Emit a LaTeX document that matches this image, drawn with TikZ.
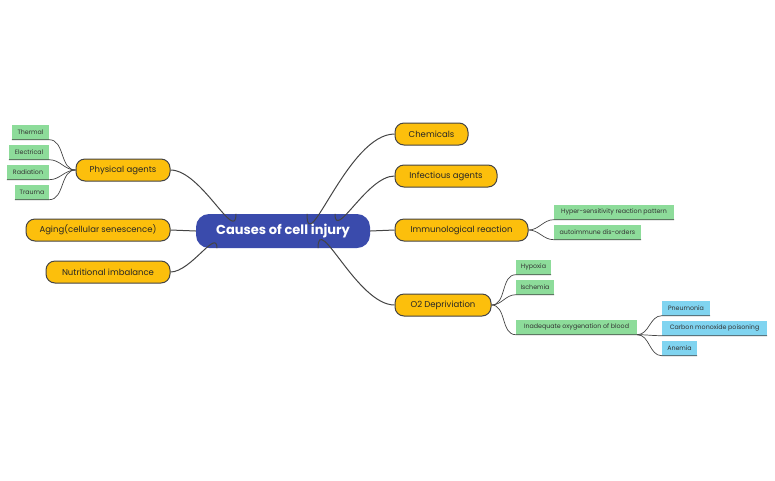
\documentclass[tikz,border=0pt]{standalone}
\usepackage{fontspec}
\setmainfont{Poppins}
\begin{document}
\definecolor{rootc}{HTML}{3A4BAC}
\definecolor{orc}{HTML}{FCBF0C}
\definecolor{grc}{HTML}{8DDC9A}
\definecolor{blc}{HTML}{80D4F0}
\definecolor{lnc}{HTML}{444444}
\begin{tikzpicture}[x=1pt,y=-1pt,
  root/.style={rounded corners=13pt,fill=rootc,text=white,font=\fontsize{13}{15}\selectfont\bfseries,minimum width=174pt,minimum height=34pt,inner sep=0pt},
  main/.style={rounded corners=9pt,fill=orc,draw=lnc,line width=1pt,font=\fontsize{8.5}{10}\selectfont,text=black!85,minimum height=22pt,inner sep=0pt},
  leaf/.style={fill=grc,font=\fontsize{6.3}{8}\selectfont,text=black!80,minimum height=15pt,inner sep=0pt},
  bleaf/.style={fill=blc,font=\fontsize{6.3}{8}\selectfont,text=black!80,minimum height=15pt,inner sep=0pt},
  con/.style={draw=lnc,line width=1pt},
  lcon/.style={draw=lnc,line width=0.7pt}]
\useasboundingbox (0,0) rectangle (775,480);
\node[root] (root) at (283,231) {Causes of cell injury};
\node[main,minimum width=94pt] (phys) at (123,170) {Physical agents};
\node[main,minimum width=144pt] (aging) at (98,230) {Aging(cellular senescence)};
\node[main,minimum width=124pt] (nutr) at (108,272) {Nutritional imbalance};
\node[main,minimum width=73pt] (chem) at (431.5,134) {Chemicals};
\node[main,minimum width=102pt] (inf) at (446,176) {Infectious agents};
\node[main,minimum width=133pt] (imm) at (461.5,230) {Immunological reaction};
\node[main,minimum width=96pt] (o2) at (443,305) {O2 Depriviation};
\node[leaf,minimum width=37pt] (th) at (30.5,132) {Thermal};
\node[leaf,minimum width=40pt] (el) at (29,152) {Electrical};
\node[leaf,minimum width=42pt] (ra) at (28,172) {Radiation};
\node[leaf,minimum width=34pt] (tr) at (32,192) {Trauma};
\node[leaf,minimum width=120pt] (hy) at (614,212) {Hyper-sensitivity reaction pattern};
\node[leaf,minimum width=87pt] (au) at (597.5,232) {autoimmune dis-orders};
\node[leaf,minimum width=35pt] (hp) at (533.5,267) {Hypoxia};
\node[leaf,minimum width=38pt] (is) at (535,287) {Ischemia};
\node[leaf,minimum width=121pt] (ina) at (576.5,327) {Inadequate oxygenation of blood};
\node[bleaf,minimum width=48pt] (pn) at (686,308) {Pneumonia};
\node[bleaf,minimum width=105pt] (co) at (714.5,328) {Carbon monoxide poisoning};
\node[bleaf,minimum width=35pt] (an) at (679.5,348) {Anemia};
% main connectors
\draw[con] ([xshift=24pt]root.north) to[out=-90,in=180] (chem.west);
\draw[con] ([xshift=52pt]root.north) to[out=-90,in=180] (inf.west);
\draw[con] (root.east) -- (imm.west);
\draw[con] ([xshift=35pt]root.south) to[out=90,in=180] (o2.west);
\draw[con] ([xshift=-47pt]root.north) to[out=-90,in=0] (phys.east);
\draw[con] (root.west) -- (aging.east);
\draw[con] ([xshift=-66pt]root.south) to[out=90,in=0] (nutr.east);
% leaf connectors
\foreach \l in {th,el,ra,tr}
  \draw[lcon] (phys.west) to[out=180,in=0] (\l.south east) -- (\l.south west);
\foreach \l in {hy,au}
  \draw[lcon] (imm.east) to[out=0,in=180] (\l.south west) -- (\l.south east);
\foreach \l in {hp,is,ina}
  \draw[lcon] (o2.east) to[out=0,in=180] (\l.south west) -- (\l.south east);
\foreach \l in {pn,co,an}
  \draw[lcon] (ina.south east) to[out=0,in=180] (\l.south west) -- (\l.south east);
\end{tikzpicture}
\end{document}
